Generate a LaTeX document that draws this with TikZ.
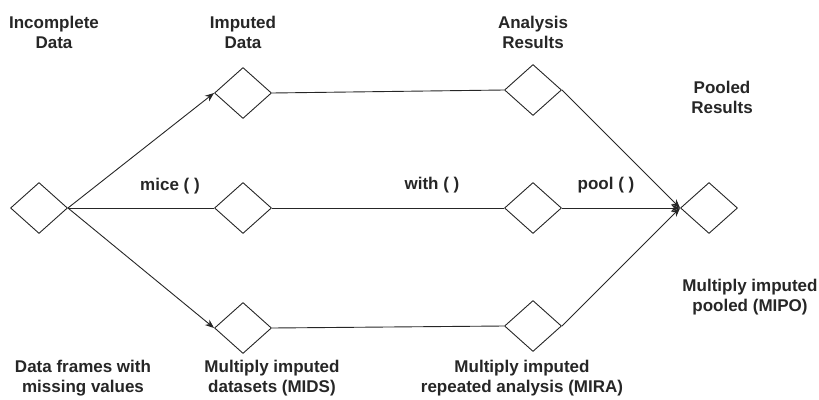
\documentclass[tikz,border=0pt]{standalone}
\usepackage{fontspec}
\setmainfont{Liberation Sans}
\usepackage{tikz}
\usetikzlibrary{shapes.geometric,arrows.meta,positioning}

\begin{document}
\begin{tikzpicture}[x=1pt,y=-1pt,
  dset/.style={draw=black!85,shape=diamond,minimum width=57pt,minimum height=51pt,inner sep=0pt,line width=0.9pt},
  lbl/.style={align=center,text=black!85,font=\fontsize{17}{20}\selectfont\bfseries},
  flow/.style={draw=black!85,line width=0.9pt},
  flowarr/.style={flow,-{Stealth[length=9pt,width=7pt]}}]
\useasboundingbox (0,0) rectangle (819,399);
% the datasets
\node[dset] (inc) at (39,208) {};
\node[dset] (imp1) at (243,93) {};
\node[dset] (imp2) at (243,208) {};
\node[dset] (imp3) at (243,328) {};
\node[dset] (ana1) at (533,90) {};
\node[dset] (ana2) at (533,208) {};
\node[dset] (ana3) at (533,326) {};
\node[dset] (pool) at (709,208) {};
% connectors
\draw[flowarr] (inc.east) -- (imp1.west);
\draw[flow] (inc.east) -- (imp2.west);
\draw[flowarr] (inc.east) -- (imp3.west);
\foreach \i in {1,2,3} % imputed to analysis
\draw[flow] (imp\i.east) -- (ana\i.west);
\foreach \i in {1,2,3} % analysis to pooled
\draw[flowarr] (ana\i.east) -- (pool.west);
% labels
\node[lbl] (incT) at (54,32) {Incomplete\\Data};
\node[lbl] (impT) at (243,32) {Imputed\\Data};
\node[lbl] (anaT) at (533,32) {Analysis\\Results};
\node[lbl] (poolT) at (722,97) {Pooled\\Results};
\node[lbl] (mice) at (170,186) {mice ( )};
\node[lbl] (with) at (432,185) {with ( )};
\node[lbl] (poolfn) at (606,185) {pool ( )};
\node[lbl] (incB) at (83,378) {Data frames with\\missing values};
\node[lbl] (mids) at (272,378) {Multiply imputed\\datasets (MIDS)};
\node[lbl] (mira) at (522,378) {Multiply imputed\\repeated analysis (MIRA)};
\node[lbl] (mipo) at (750,297) {Multiply imputed\\pooled (MIPO)};
\end{tikzpicture}
\end{document}
